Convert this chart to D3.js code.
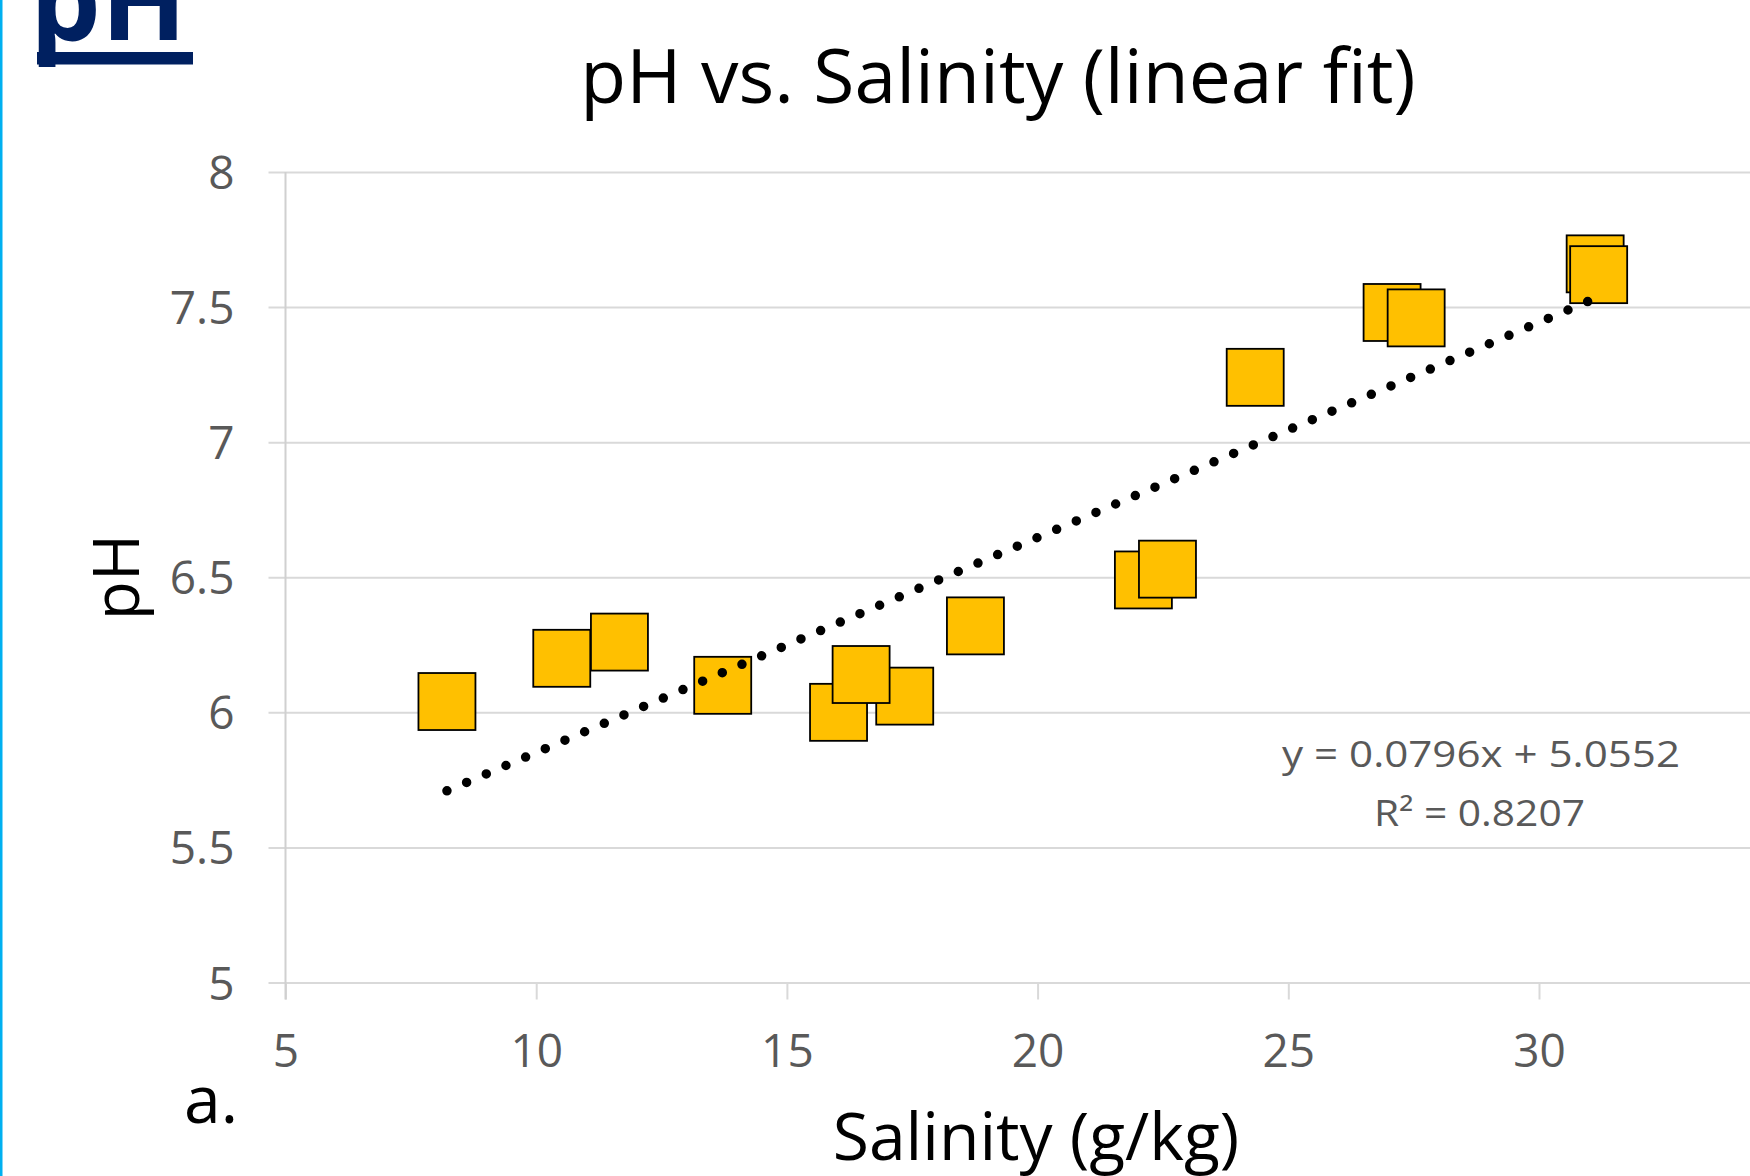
<!DOCTYPE html>
<html>
<head>
<meta charset="utf-8">
<script src="https://cdn.jsdelivr.net/npm/d3@7"></script>
<style>
  body { margin: 0; background: #fff; }
  svg { display: block; }
</style>
</head>
<body>
<div id="chart"></div>
<script>
"use strict"

// values
let salinity = [8.22, 10.51, 11.66, 13.72, 16.03, 17.35, 16.48, 18.76, 22.11, 22.59, 24.34, 27.07, 27.55, 31.12, 31.19];
let phValues = [6.04, 6.20, 6.26, 6.10, 6.00, 6.06, 6.14, 6.32, 6.49, 6.53, 7.24, 7.48, 7.46, 7.66, 7.62];
let xTicks = [5, 10, 15, 20, 25, 30];
let yTicks = [5, 5.5, 6, 6.5, 7, 7.5, 8];
let trendCoef = [0.0796, 5.0552];   // slope, intercept as printed
let trendLabels = ["y = 0.0796x + 5.0552", "R\u00b2 = 0.8207"];

let ChartView = function(targetID) {

  let self = {
    svg: null,
    x: null,
    y: null,
    font: "'Open Sans', 'Noto Sans', sans-serif"
  };

  init();

  function init() {
    self.svg = d3.select(targetID).append("svg")
      .attr("width", 1750)
      .attr("height", 1176);

    self.svg.append("rect")
      .attr("width", 1750).attr("height", 1176)
      .style("fill", "#fff");

    // axis runs on to 35, past the cropped right edge
    self.x = d3.scaleLinear().domain([5, 35]).range([285.5, 1789.7]);
    self.y = d3.scaleLinear().domain([5, 8]).range([982.5, 172]);

    drawSideBar();
    drawHeading();
    drawYAxis();
    drawXAxis();
    drawPoints();
    drawTrend();
    drawTitles();
  }

  function drawSideBar() {
    self.svg.append("rect")
      .attr("x", 0).attr("y", 0)
      .attr("width", 2.5).attr("height", 1176)
      .style("fill", "#00b0f0");
  }

  function drawHeading() {
    self.svg.append("text")
      .attr("x", 30)
      .attr("y", 40)
      .style("font-family", self.font)
      .style("font-weight", "bold")
      .style("font-size", "112px")
      .style("fill", "#002060")
      .text("pH");
    self.svg.append("rect")
      .attr("x", 37)
      .attr("y", 52)
      .attr("width", 156)
      .attr("height", 12.5)
      .style("fill", "#002060");
  }

  function drawYAxis() {
    let g = self.svg.append("g")
      .attr("transform", "translate(" + self.x.range()[0] + ",0)")
      .call(d3.axisLeft(self.y).tickValues(yTicks).tickFormat(d => d).tickSizeOuter(0));

    g.select(".domain").remove();
    g.selectAll(".tick line")
      .attr("x1", -17)
      .attr("x2", 1750 - self.x.range()[0])
      .style("stroke", "#d9d9d9")
      .style("stroke-width", "2px");
    g.selectAll(".tick text")
      .attr("x", -51)
      .attr("dy", "16.5px")
      .style("font-family", self.font)
      .style("font-size", "46px")
      .style("fill", "#595959");
  }

  function drawXAxis() {
    let g = self.svg.append("g")
      .attr("transform", "translate(0," + self.y.range()[0] + ")")
      .call(d3.axisBottom(self.x).tickValues(xTicks).tickFormat(d => d).tickSizeOuter(0));

    g.select(".domain").remove();
    g.selectAll(".tick line")
      .attr("y2", 17)
      .style("stroke", "#d9d9d9")
      .style("stroke-width", "2px");
    g.selectAll(".tick text")
      .attr("y", 84.5)
      .attr("dy", null)
      .style("font-family", self.font)
      .style("font-size", "46px")
      .style("fill", "#595959");

    // value axis line
    self.svg.append("line")
      .attr("x1", self.x(5)).attr("x2", self.x(5))
      .attr("y1", self.y(8)).attr("y2", self.y(5) + 17)
      .style("stroke", "#d0d0d0")
      .style("stroke-width", "2px");
  }

  function drawPoints() {
    let size = 57;
    self.svg.append("g").selectAll("rect")
      .data(salinity.map((s, i) => [s, phValues[i]]))
      .join("rect")
      .attr("x", d => self.x(d[0]) - size / 2)
      .attr("y", d => self.y(d[1]) - size / 2)
      .attr("width", size)
      .attr("height", size)
      .style("fill", "#ffc000")
      .style("stroke", "#000")
      .style("stroke-width", "1.8px");
  }

  function drawTrend() {
    let ends = d3.extent(salinity);
    self.svg.append("line")
      .attr("x1", self.x(ends[0]))
      .attr("y1", self.y(trendCoef[0] * ends[0] + trendCoef[1]))
      .attr("x2", self.x(ends[1]))
      .attr("y2", self.y(trendCoef[0] * ends[1] + trendCoef[1]))
      .style("stroke", "#000")
      .style("stroke-width", "9.5px")
      .style("stroke-linecap", "round")
      .style("stroke-dasharray", "0 21.4");

    let widths = [398, 211];
    let baselines = [767, 826];
    let centers = [1481, 1479.5];
    trendLabels.forEach(function(lbl, i) {
      self.svg.append("text")
        .attr("x", centers[i])
        .attr("y", baselines[i])
        .attr("text-anchor", "middle")
        .attr("textLength", widths[i])
        .attr("lengthAdjust", "spacingAndGlyphs")
        .style("font-family", self.font)
        .style("font-size", "37px")
        .style("fill", "#595959")
        .text(lbl);
    });
  }

  function drawTitles() {
    self.svg.append("text")
      .attr("x", 998)
      .attr("y", 102.7)
      .attr("text-anchor", "middle")
      .style("font-family", self.font)
      .style("font-size", "75px")
      .style("fill", "#000")
      .text("pH vs. Salinity (linear fit)");

    self.svg.append("text")
      .attr("x", 1036)
      .attr("y", 1160)
      .attr("text-anchor", "middle")
      .style("font-family", self.font)
      .style("font-size", "66px")
      .style("fill", "#000")
      .text("Salinity (g/kg)");

    self.svg.append("text")
      .attr("transform", "translate(139,577) rotate(-90)")
      .attr("text-anchor", "middle")
      .style("font-family", self.font)
      .style("font-size", "64px")
      .style("fill", "#000")
      .text("pH");

    self.svg.append("text")
      .attr("x", 184)
      .attr("y", 1122.5)
      .style("font-family", self.font)
      .style("font-size", "66px")
      .style("fill", "#000")
      .text("a.");
  }
};

ChartView("#chart");
</script>
</body>
</html>
